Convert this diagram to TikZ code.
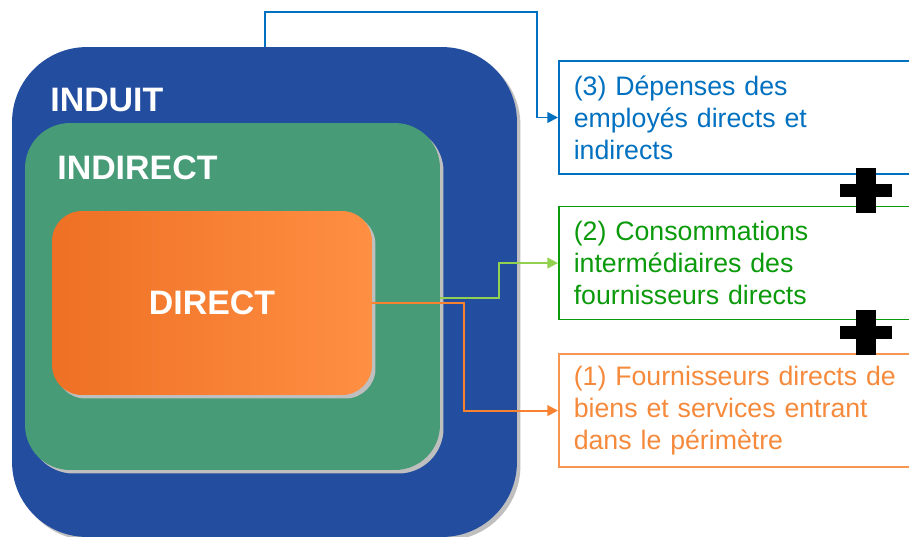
\documentclass[tikz,border=0pt]{standalone}
\usepackage{fontspec}
\setmainfont{Liberation Sans}
\usepackage{xcolor}
\usetikzlibrary{arrows.meta,positioning,shadows}

\definecolor{induitblue}{HTML}{234EA0}
\definecolor{indirectgreen}{HTML}{479B76}
\definecolor{directdark}{HTML}{EE7024}
\definecolor{directlight}{HTML}{FF8F43}
\definecolor{linkblue}{HTML}{0070C0}
\definecolor{linkgreen}{HTML}{92D050}
\definecolor{linkorange}{HTML}{F8822F}
\definecolor{textgreen}{HTML}{0B9A0B}
\definecolor{textorange}{HTML}{F68A3C}

\begin{document}
\begin{tikzpicture}[
  x=0.02cm, y=-0.02cm,
  zone/.style={rounded corners=#1, draw=none, drop shadow={shadow xshift=2pt, shadow yshift=-2pt, fill=black!25, opacity=1}},
  zonelabel/.style={text=white, font=\fontsize{19.3}{22}\selectfont\bfseries, inner sep=0pt},
  box/.style={draw, fill=white, line width=0.9pt, minimum height=2.26cm, text width=6.8cm, inner xsep=0.3cm, align=left, font=\fontsize{15.2}{18.2}\selectfont},
  arr/.style={-{Triangle[length=6pt,width=6pt]}, line width=1.1pt}
]
  \useasboundingbox (0,0) rectangle (909,537);

  % nested zones
  \node[zone=1.5cm, fill=induitblue, minimum width=10.1cm, minimum height=9.8cm] (induit) at (264.5,292) {};
  \node[zone=0.9cm, fill=indirectgreen, minimum width=8.3cm, minimum height=6.94cm] (indirect) at (232.5,296.5) {};
  \node[zone=0.6cm, left color=directdark, right color=directlight, minimum width=6.4cm, minimum height=3.68cm, zonelabel] (direct) at (212,303) {DIRECT};
  \node[zonelabel, anchor=west] (induitlbl) at (50,100) {INDUIT};
  \node[zonelabel, anchor=west] (indirectlbl) at (57,168) {INDIRECT};

  % boxes on the right
  \node[box, draw=linkblue, text=linkblue, anchor=west] (box3) at (558,117.5) {(3) Dépenses des\\employés directs et\\indirects};
  \node[box, draw=textgreen, text=textgreen, below=0.62cm of box3] (box2) {(2) Consommations\\intermédiaires des\\fournisseurs directs};
  \node[box, draw=textorange!90, text=textorange, below=0.66cm of box2] (box1) {(1) Fournisseurs directs de\\biens et services entrant\\dans le périmètre};

  % connectors
  \coordinate (bluestart) at (265,0);
  \coordinate (bluebend) at (537,12);
  \coordinate (greenbend) at (499,298);
  \coordinate (orangebend) at (464,0);
  \draw[arr, linkblue] (induit.north -| bluestart) |- (bluebend) |- (box3.west);
  \draw[arr, linkgreen] (indirect.east |- greenbend) -- (greenbend) |- (box2.west);
  \draw[arr, linkorange] (direct.east) -| (orangebend |- box1.west) -- (box1.west);

  % plus signs
  \foreach \py in {190,332.5} {
    \fill (840,\py-6.5) rectangle (892,\py+6.5);
    \fill (856,\py-22.5) rectangle (876,\py+22.5);
  }
\end{tikzpicture}
\end{document}
